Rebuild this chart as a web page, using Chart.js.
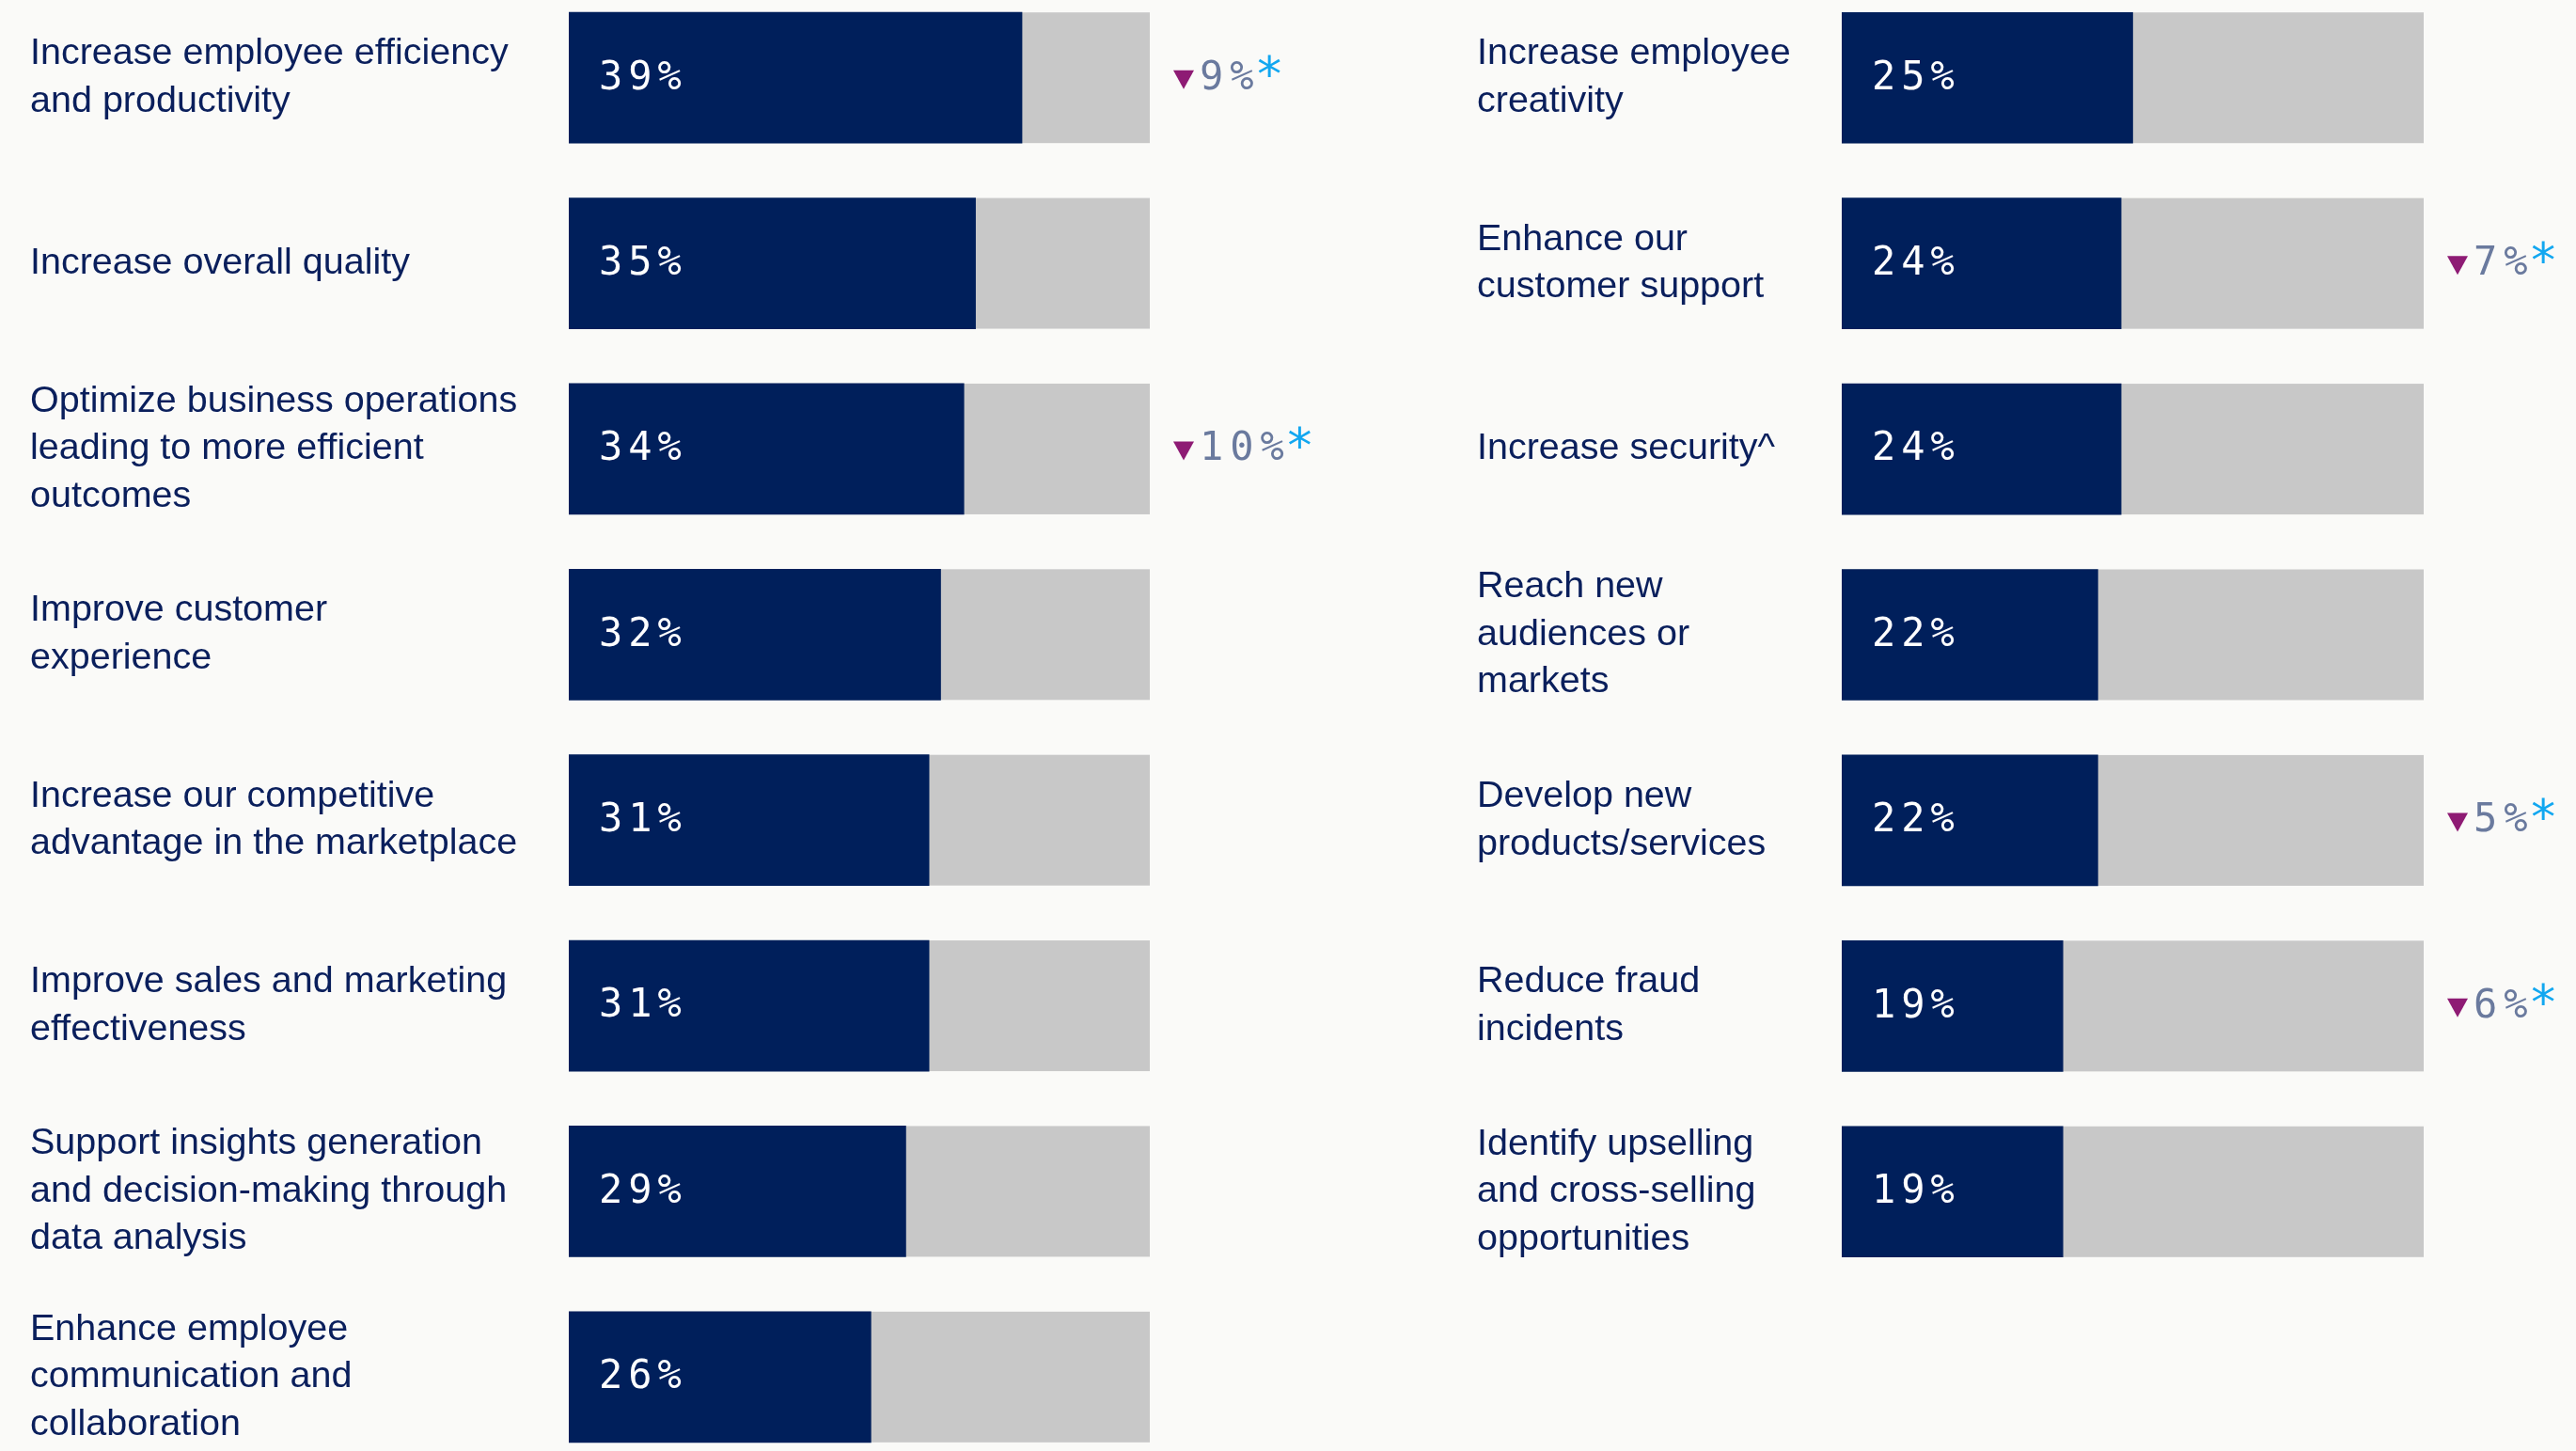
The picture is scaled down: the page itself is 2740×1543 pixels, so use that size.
<!DOCTYPE html>
<html>
<head>
<meta charset="utf-8">
<script src="https://cdn.jsdelivr.net/npm/chart.js@4"></script>
<style>
  html, body { margin: 0; padding: 0; background: #fafaf8; overflow: hidden; }
  body { width: 2740px; height: 1543px; position: relative; }
  .wrap { position: absolute; top: -16px; }
  #leftWrap { left: 0; width: 1400px; height: 1579px; }
  #rightWrap { left: 1400px; width: 1340px; height: 1382px; }
</style>
</head>
<body>
<div class="wrap" id="leftWrap"><canvas id="leftChart"></canvas></div>
<div class="wrap" id="rightWrap"><canvas id="rightChart"></canvas></div>
<script>
// Left column
const leftLabels = [
  ['Increase employee efficiency', 'and productivity'],
  ['Increase overall quality'],
  ['Optimize business operations', 'leading to more efficient', 'outcomes'],
  ['Improve customer', 'experience'],
  ['Increase our competitive', 'advantage in the marketplace'],
  ['Improve sales and marketing', 'effectiveness'],
  ['Support insights generation', 'and decision-making through', 'data analysis'],
  ['Enhance employee', 'communication and', 'collaboration']
];
const leftValues = [39, 35, 34, 32, 31, 31, 29, 26];
const leftDeltas = [9, null, 10, null, null, null, null, null];

// Right column
const rightLabels = [
  ['Increase employee', 'creativity'],
  ['Enhance our', 'customer support'],
  ['Increase security^'],
  ['Reach new', 'audiences or', 'markets'],
  ['Develop new', 'products/services'],
  ['Reduce fraud', 'incidents'],
  ['Identify upselling', 'and cross-selling', 'opportunities']
];
const rightValues = [25, 24, 24, 22, 22, 19, 19];
const rightDeltas = [null, 7, null, null, 5, 6, null];

// Grey track stands for 50%
const trackMax = 50;

const colors = {
  bar: '#001f5b',
  track: '#c8c8c8',
  label: '#0a1f5c',
  delta: '#6a7a9e',
  arrow: '#8e1b74',
  star: '#12a7f0'
};
const monoFont = '42px "DejaVu Sans Mono", monospace';

// Draws the grey track behind each bar
const trackPlugin = {
  id: 'track',
  beforeDatasetsDraw(chart) {
    const ctx = chart.ctx;
    const left = chart.chartArea.left;
    const right = chart.scales.x.getPixelForValue(trackMax);
    ctx.save();
    ctx.fillStyle = colors.track;
    chart.getDatasetMeta(0).data.forEach(el => {
      const { y, height } = el.getProps(['y', 'height'], true);
      ctx.fillRect(left, y - height / 2, right - left, height);
    });
    ctx.restore();
  }
};

// Value labels inside bars and change markers to the right
const labelPlugin = {
  id: 'valueLabels',
  afterDatasetsDraw(chart, args, opts) {
    const ctx = chart.ctx;
    const left = chart.chartArea.left;
    const end = chart.scales.x.getPixelForValue(trackMax);
    const values = chart.data.datasets[0].data;
    ctx.save();
    ctx.textBaseline = 'middle';
    ctx.textAlign = 'left';
    chart.getDatasetMeta(0).data.forEach((el, i) => {
      const y = el.y;
      ctx.font = monoFont;
      ctx.letterSpacing = '6px';
      ctx.fillStyle = '#ffffff';
      ctx.fillText(values[i] + '%', left + 32, y + 1);

      const d = opts.deltas[i];
      if (d == null) return;
      const tx = end + 25;
      ctx.fillStyle = colors.arrow;
      ctx.beginPath();
      ctx.moveTo(tx, y - 8);
      ctx.lineTo(tx + 22, y - 8);
      ctx.lineTo(tx + 11, y + 12);
      ctx.closePath();
      ctx.fill();

      ctx.letterSpacing = '7px';
      ctx.fillStyle = colors.delta;
      const txt = d + '%';
      ctx.fillText(txt, tx + 28, y + 1);
      const w = ctx.measureText(txt).width;
      ctx.font = '52px "DejaVu Sans Mono", monospace';
      ctx.letterSpacing = '0px';
      ctx.fillStyle = colors.star;
      ctx.fillText('*', tx + 28 + w - 6, y + 1);
    });
    ctx.restore();
  }
};

function makeChart(id, labels, values, deltas, padLeft, axisWidth, padRight) {
  return new Chart(document.getElementById(id), {
    type: 'bar',
    data: {
      labels: labels,
      datasets: [{
        data: values,
        backgroundColor: colors.bar,
        barThickness: 139,
        borderWidth: 0
      }]
    },
    options: {
      indexAxis: 'y',
      responsive: true,
      maintainAspectRatio: false,
      animation: false,
      events: [],
      layout: { padding: { left: padLeft, right: padRight, top: 0, bottom: 0 } },
      scales: {
        x: { display: false, min: 0, max: trackMax },
        y: {
          grid: { display: false },
          border: { display: false },
          afterFit(scale) {
            scale.width = axisWidth;
            scale.paddingTop = 0;
            scale.paddingBottom = 0;
          },
          ticks: {
            autoSkip: false,
            crossAlign: 'far',
            color: colors.label,
            font: { family: '"Liberation Sans", Arial, sans-serif', size: 39.5, lineHeight: 1.28 }
          }
        }
      },
      plugins: {
        legend: { display: false },
        tooltip: { enabled: false },
        valueLabels: { deltas: deltas }
      }
    },
    plugins: [trackPlugin, labelPlugin]
  });
}

makeChart('leftChart', leftLabels, leftValues, leftDeltas, 32, 573, 177);
makeChart('rightChart', rightLabels, rightValues, rightDeltas, 171, 388, 162);
</script>
</body>
</html>
